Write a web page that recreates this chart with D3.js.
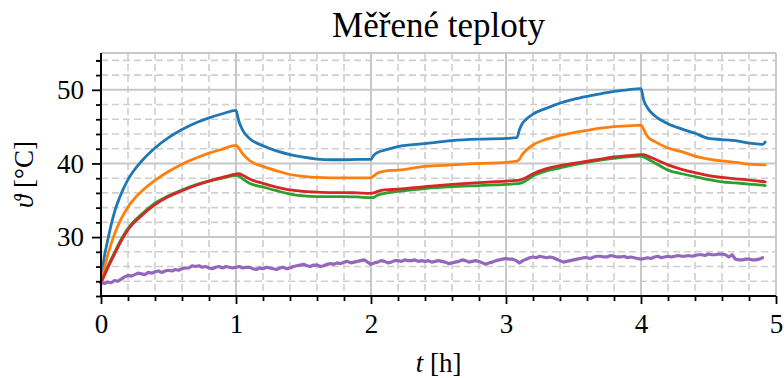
<!DOCTYPE html>
<html>
<head>
<meta charset="utf-8">
<script src="https://cdn.jsdelivr.net/npm/d3@7/dist/d3.min.js"></script>
<style>
  html, body { margin: 0; padding: 0; background: #fff; }
  svg { display: block; }
  text { font-family: "Liberation Serif", "DejaVu Serif", serif; fill: #000; }
</style>
</head>
<body>
<svg id="chart" width="784" height="378"></svg>
<script>
// ---------- data ----------
const title = "Měřené teploty";
const xTicks = [0, 1, 2, 3, 4, 5];
const yTicks = [30, 40, 50];

const tSmooth = [0, 0.02, 0.05, 0.1, 0.15, 0.2, 0.3, 0.4, 0.5, 0.6, 0.7, 0.8, 0.9, 1.0,
  1.02, 1.05, 1.1, 1.2, 1.3, 1.4, 1.5, 1.6, 1.7, 1.8, 1.9, 2.0,
  2.02, 2.05, 2.1, 2.2, 2.4, 2.6, 2.8, 3.0, 3.08, 3.1, 3.12, 3.15, 3.2, 3.3, 3.4, 3.5,
  3.6, 3.7, 3.8, 3.9, 4.0, 4.02, 4.05, 4.1, 4.2, 4.3, 4.4, 4.5, 4.6, 4.7, 4.8, 4.9, 4.92];

const blue = [23.8, 26.8, 29.6, 33.4, 35.9, 37.8, 40.3, 42.1, 43.5, 44.6, 45.5, 46.2, 46.75, 47.2,
  45.8, 44.5, 43.4, 42.4, 41.7, 41.2, 40.85, 40.6, 40.5, 40.5, 40.55, 40.55,
  41.1, 41.5, 41.8, 42.3, 42.7, 43.1, 43.3, 43.4, 43.5, 44.6, 45.4, 46.0, 46.7, 47.5, 48.2, 48.7,
  49.1, 49.45, 49.8, 50.0, 50.15, 48.6, 47.5, 46.5, 45.4, 44.7, 44.1, 43.4, 43.25, 43.1, 42.75, 42.6, 42.9];

const orange = [23.8, 25.4, 27.6, 30.4, 32.5, 34.1, 36.2, 37.7, 38.9, 39.9, 40.7, 41.4, 41.95, 42.45,
  42.1, 41.3, 40.4, 39.6, 39.0, 38.5, 38.25, 38.1, 38.05, 38.05, 38.05, 38.05,
  38.3, 38.7, 38.95, 39.1, 39.6, 39.8, 40.0, 40.15, 40.3, 40.6, 41.2, 41.8, 42.5, 43.3, 43.8, 44.2,
  44.5, 44.8, 45.0, 45.1, 45.2, 44.6, 43.6, 43.0, 42.1, 41.6, 41.0, 40.6, 40.35, 40.15, 39.9, 39.8, 39.8];

const green = [23.8, 24.7, 26.0, 27.9, 29.7, 31.2, 33.1, 34.6, 35.6, 36.4, 37.1, 37.6, 38.0, 38.4,
  38.3, 37.9, 37.3, 36.8, 36.3, 35.85, 35.6, 35.5, 35.5, 35.5, 35.45, 35.35,
  35.4, 35.7, 35.95, 36.2, 36.6, 36.85, 37.0, 37.15, 37.25, 37.3, 37.4, 37.7, 38.3, 39.0, 39.4, 39.8,
  40.15, 40.45, 40.7, 40.9, 41.0, 40.9, 40.6, 40.1, 39.1, 38.6, 38.2, 37.8, 37.5, 37.35, 37.2, 37.05, 37.0];

const red = [23.8, 24.6, 25.8, 27.7, 29.5, 31.0, 32.9, 34.4, 35.5, 36.3, 37.0, 37.6, 38.1, 38.55,
  38.6, 38.4, 37.9, 37.3, 36.8, 36.4, 36.2, 36.1, 36.05, 36.05, 36.0, 35.95,
  36.0, 36.2, 36.4, 36.5, 36.85, 37.15, 37.4, 37.6, 37.7, 37.75, 37.85, 38.1, 38.6, 39.3, 39.7, 40.0,
  40.3, 40.6, 40.9, 41.05, 41.2, 41.2, 41.0, 40.6, 39.8, 39.2, 38.75, 38.35, 38.1, 37.9, 37.75, 37.55, 37.5];

const tPurple = d3.range(0, 197).map(i => +(i * 0.025).toFixed(3));
const purple = [
  23.8, 23.7, 23.9, 23.8, 24.1, 24.0, 24.3, 24.6, 24.8, 24.7,
  24.9, 25.1, 25.0, 24.9, 25.2, 25.1, 25.3, 25.4, 25.2, 25.4,
  25.5, 25.4, 25.6, 25.5, 25.7, 25.8, 25.8, 26.1, 26.0, 26.1,
  25.9, 26.0, 25.8, 25.7, 25.9, 26.0, 25.8, 26.0, 25.9, 25.8,
  25.9, 26.0, 25.8, 25.9, 25.9, 25.7, 25.6, 25.8, 25.7, 25.9,
  25.8, 25.7, 25.6, 25.8, 25.9, 25.7, 25.8, 26.0, 26.1, 26.2,
  26.3, 26.1, 26.0, 26.2, 26.2, 26.0, 26.1, 26.3, 26.4, 26.3,
  26.5, 26.4, 26.6, 26.7, 26.5, 26.6, 26.7, 26.8, 26.9, 26.6,
  26.3, 26.5, 26.6, 26.8, 26.7, 26.5, 26.6, 26.8, 26.8, 26.7,
  26.9, 26.8, 26.8, 26.9, 26.7, 26.8, 26.7, 26.8, 26.6, 26.7,
  26.8, 26.7, 26.6, 26.4, 26.5, 26.6, 26.7, 26.9, 26.8, 26.6,
  26.7, 26.8, 26.7, 26.5, 26.3, 26.5, 26.6, 26.8, 26.9, 27.0,
  27.1, 27.0, 27.0, 26.8, 26.5, 26.8, 27.0, 27.2, 27.3, 27.2,
  27.4, 27.3, 27.2, 27.3, 27.2, 27.0, 26.8, 26.6, 26.7, 26.8,
  26.9, 27.0, 27.1, 27.2, 27.2, 27.1, 27.3, 27.4, 27.4, 27.3,
  27.3, 27.5, 27.4, 27.3, 27.3, 27.4, 27.2, 27.3, 27.2, 27.1,
  27.0, 27.1, 27.2, 27.1, 27.3, 27.4, 27.2, 27.3, 27.4, 27.3,
  27.4, 27.5, 27.4, 27.4, 27.5, 27.4, 27.5, 27.6, 27.6, 27.5,
  27.7, 27.6, 27.6, 27.7, 27.7, 27.6, 27.3, 27.6, 27.0, 26.9,
  26.9, 27.0, 27.0, 26.9, 26.9, 27.0, 27.2];

const seriesList = [
  { t: tSmooth, v: blue, color: "#1f77b4", smooth: true },
  { t: tSmooth, v: orange, color: "#ff7f0e", smooth: true },
  { t: tSmooth, v: green, color: "#2ca02c", smooth: true },
  { t: tSmooth, v: red, color: "#d62728", smooth: true },
  { t: tPurple, v: purple, color: "#9467bd", smooth: false }
];

// ---------- layout ----------
const svg = d3.select("#chart");
const L = 101, R = 776, T = 53, B = 296;
const x = d3.scaleLinear().domain([0, 5]).range([L, R]);
const y = d3.scaleLinear().domain([22, 55]).range([B, T]);

const minorX = d3.range(0, 5.0001, 0.2).map(v => +v.toFixed(2)).filter(v => !xTicks.includes(v));
const minorY = d3.range(22, 55, 2).filter(v => !yTicks.includes(v));

const grid = svg.append("g");
grid.selectAll("line.mx").data(minorX).join("line")
  .attr("x1", d => x(d)).attr("x2", d => x(d)).attr("y1", T).attr("y2", B)
  .attr("stroke", "#cfcfcf").attr("stroke-width", 1.6).attr("stroke-dasharray", "7,4");
grid.selectAll("line.my").data(minorY).join("line")
  .attr("x1", L).attr("x2", R).attr("y1", d => y(d)).attr("y2", d => y(d))
  .attr("stroke", "#cfcfcf").attr("stroke-width", 1.6).attr("stroke-dasharray", "7,4");
grid.selectAll("line.Mx").data(xTicks).join("line")
  .attr("x1", d => x(d)).attr("x2", d => x(d)).attr("y1", T).attr("y2", B)
  .attr("stroke", "#c8c8c8").attr("stroke-width", 2);
grid.selectAll("line.My").data(yTicks.concat([55])).join("line")
  .attr("x1", L).attr("x2", R).attr("y1", d => y(d)).attr("y2", d => y(d))
  .attr("stroke", "#c8c8c8").attr("stroke-width", 2);

// lines
const lineSmooth = d3.line().x(d => x(d[0])).y(d => y(d[1])).curve(d3.curveMonotoneX);
const lineRaw = d3.line().x(d => x(d[0])).y(d => y(d[1]));
svg.append("g").selectAll("path").data(seriesList).join("path")
  .attr("d", s => (s.smooth ? lineSmooth : lineRaw)(s.t.map((t, i) => [t, s.v[i]])))
  .attr("fill", "none")
  .attr("stroke", s => s.color)
  .attr("stroke-width", s => s.smooth ? 2.8 : 3.2)
  .attr("stroke-linejoin", "round")
  .attr("stroke-linecap", "round");

// axes
const xAxis = svg.append("g").attr("transform", `translate(0,${B})`)
  .call(d3.axisBottom(x).tickValues(xTicks).tickFormat(d3.format("d")).tickSize(8).tickPadding(10));
const xMinor = svg.append("g").attr("transform", `translate(0,${B})`)
  .call(d3.axisBottom(x).tickValues(minorX).tickFormat("").tickSize(5));
const yAxis = svg.append("g").attr("transform", `translate(${L},0)`)
  .call(d3.axisLeft(y).tickValues(yTicks).tickFormat(d3.format("d")).tickSize(9).tickPadding(8));
const yMinor = svg.append("g").attr("transform", `translate(${L},0)`)
  .call(d3.axisLeft(y).tickValues(minorY.concat([54])).tickFormat("").tickSize(5));

[xAxis, xMinor, yAxis, yMinor].forEach(g => {
  g.attr("font-family", null).attr("font-size", null);
  g.select(".domain").remove();
  g.selectAll(".tick line").attr("stroke", "#000").attr("stroke-width", 1.8);
  g.selectAll(".tick text")
    .style("font-family", "'Liberation Serif', serif")
    .style("font-size", "27px").attr("fill", "#000");
});
xAxis.selectAll(".tick text").attr("dy", "0.71em");

// spines
svg.append("line").attr("x1", L).attr("x2", R).attr("y1", B).attr("y2", B)
  .attr("stroke", "#000").attr("stroke-width", 2);
svg.append("line").attr("x1", L).attr("x2", L).attr("y1", T).attr("y2", B)
  .attr("stroke", "#000").attr("stroke-width", 2);

// title
svg.append("text").attr("x", (L + R) / 2).attr("y", 37).attr("text-anchor", "middle")
  .style("font-size", "35px").text(title);

// x label
const xl = svg.append("text").attr("x", (L + R) / 2).attr("y", 372).attr("text-anchor", "middle")
  .style("font-size", "27px");
xl.append("tspan").attr("font-style", "italic").text("t");
xl.append("tspan").text(" [h]");

// y label
const yl = svg.append("text").attr("transform", `translate(33,${(T + B) / 2}) rotate(-90)`)
  .attr("text-anchor", "middle").style("font-size", "27px");
yl.append("tspan").attr("font-style", "italic").text("ϑ");
yl.append("tspan").text(" [°C]");
</script>
</body>
</html>
